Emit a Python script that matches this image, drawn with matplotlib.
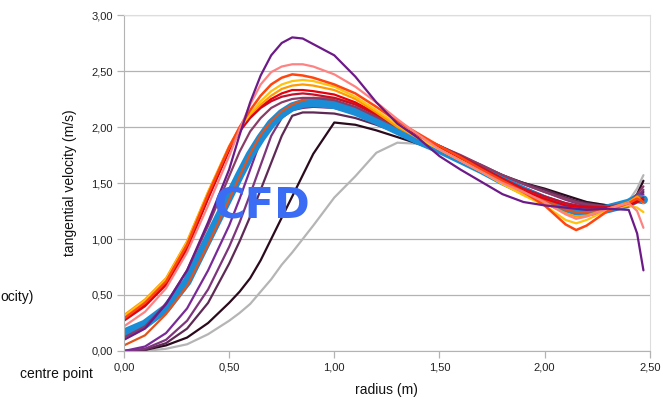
import matplotlib
matplotlib.use('Agg')
import matplotlib.pyplot as plt
from matplotlib.ticker import FuncFormatter, MultipleLocator

plt.rcParams['font.family'] = ['Liberation Sans', 'DejaVu Sans']

# radius positions (m) shared by all profiles
radius = [0.0, 0.1, 0.2, 0.3, 0.4, 0.5, 0.55, 0.6, 0.65, 0.7, 0.75, 0.8, 0.85,
          0.9, 1.0, 1.1, 1.2, 1.3, 1.4, 1.5, 1.6, 1.7, 1.8, 1.9, 2.0, 2.1,
          2.15, 2.2, 2.3, 2.4, 2.44, 2.47]

# tangential velocity profiles (m/s)
gray = [0.00, 0.00, 0.02, 0.06, 0.15, 0.27, 0.34, 0.42, 0.53, 0.64, 0.77, 0.88,
        1.00, 1.12, 1.37, 1.56, 1.77, 1.86, 1.85, 1.79, 1.71, 1.64, 1.57, 1.50,
        1.44, 1.38, 1.35, 1.33, 1.30, 1.34, 1.45, 1.57]
black = [0.00, 0.01, 0.05, 0.12, 0.25, 0.43, 0.53, 0.65, 0.81, 1.00, 1.19, 1.38,
         1.57, 1.76, 2.04, 2.02, 1.97, 1.91, 1.85, 1.78, 1.70, 1.63, 1.56, 1.50,
         1.45, 1.39, 1.36, 1.33, 1.30, 1.32, 1.40, 1.52]
plum_dark = [0.00, 0.01, 0.07, 0.20, 0.43, 0.78, 0.98, 1.20, 1.44, 1.68, 1.92,
             2.10, 2.13, 2.13, 2.12, 2.08, 2.02, 1.95, 1.88, 1.81, 1.73, 1.65,
             1.57, 1.50, 1.44, 1.37, 1.34, 1.32, 1.29, 1.31, 1.36, 1.42]
purple_mid = [0.00, 0.02, 0.10, 0.27, 0.55, 0.93, 1.15, 1.40, 1.66, 1.92, 2.08,
              2.15, 2.17, 2.18, 2.17, 2.12, 2.05, 1.97, 1.90, 1.82, 1.74, 1.66,
              1.57, 1.49, 1.42, 1.35, 1.32, 1.30, 1.28, 1.31, 1.37, 1.44]
purple = [0.00, 0.04, 0.16, 0.38, 0.72, 1.12, 1.36, 1.62, 1.88, 2.06, 2.14, 2.18,
          2.20, 2.20, 2.18, 2.12, 2.05, 1.97, 1.89, 1.82, 1.74, 1.65, 1.55, 1.46,
          1.38, 1.32, 1.30, 1.28, 1.28, 1.32, 1.38, 1.40]
cfd = [0.16, 0.24, 0.38, 0.62, 1.00, 1.38, 1.57, 1.75, 1.90, 2.03, 2.12, 2.18,
       2.21, 2.22, 2.20, 2.14, 2.06, 1.97, 1.88, 1.80, 1.71, 1.62, 1.52, 1.43,
       1.35, 1.28, 1.25, 1.24, 1.27, 1.32, 1.36, 1.35]
rust = [0.05, 0.14, 0.33, 0.58, 0.95, 1.35, 1.56, 1.76, 1.93, 2.05, 2.14, 2.20,
        2.24, 2.26, 2.26, 2.21, 2.12, 2.02, 1.92, 1.83, 1.74, 1.64, 1.54, 1.44,
        1.35, 1.26, 1.24, 1.24, 1.27, 1.32, 1.38, 1.36]
mauve = [0.12, 0.22, 0.42, 0.72, 1.12, 1.56, 1.78, 1.96, 2.08, 2.17, 2.22, 2.25,
         2.26, 2.26, 2.24, 2.18, 2.09, 2.00, 1.91, 1.83, 1.75, 1.66, 1.57, 1.49,
         1.42, 1.36, 1.33, 1.31, 1.29, 1.32, 1.40, 1.47]
crimson = [0.27, 0.40, 0.59, 0.91, 1.36, 1.79, 1.96, 2.08, 2.17, 2.23, 2.27, 2.29,
           2.30, 2.29, 2.26, 2.20, 2.11, 2.01, 1.92, 1.83, 1.74, 1.64, 1.54,
           1.45, 1.38, 1.32, 1.30, 1.29, 1.28, 1.30, 1.34, 1.37]
red = [0.28, 0.41, 0.60, 0.92, 1.37, 1.80, 1.97, 2.09, 2.18, 2.25, 2.30, 2.33,
       2.33, 2.32, 2.29, 2.22, 2.12, 2.01, 1.91, 1.82, 1.72, 1.62, 1.52, 1.43,
       1.36, 1.30, 1.29, 1.28, 1.28, 1.30, 1.33, 1.35]
orange = [0.32, 0.46, 0.65, 0.98, 1.42, 1.83, 1.99, 2.11, 2.20, 2.28, 2.34, 2.37,
          2.38, 2.37, 2.33, 2.25, 2.13, 2.00, 1.90, 1.80, 1.70, 1.60, 1.50, 1.40,
          1.32, 1.23, 1.20, 1.21, 1.27, 1.33, 1.38, 1.32]
yellow = [0.31, 0.45, 0.64, 0.97, 1.42, 1.82, 1.99, 2.12, 2.23, 2.32, 2.38, 2.41,
          2.42, 2.41, 2.36, 2.27, 2.15, 2.02, 1.90, 1.80, 1.70, 1.60, 1.49, 1.39,
          1.30, 1.17, 1.14, 1.17, 1.26, 1.30, 1.28, 1.24]
orange_red = [0.29, 0.43, 0.62, 0.95, 1.40, 1.82, 2.00, 2.15, 2.28, 2.38, 2.44,
              2.47, 2.46, 2.44, 2.38, 2.30, 2.18, 2.05, 1.94, 1.83, 1.73, 1.62,
              1.52, 1.42, 1.30, 1.13, 1.08, 1.12, 1.25, 1.32, 1.36, 1.33]
pink = [0.22, 0.35, 0.56, 0.88, 1.30, 1.74, 1.98, 2.20, 2.38, 2.49, 2.54, 2.56,
        2.56, 2.54, 2.47, 2.36, 2.22, 2.07, 1.93, 1.80, 1.70, 1.60, 1.50, 1.42,
        1.33, 1.22, 1.18, 1.20, 1.27, 1.32, 1.25, 1.10]
violet_peak = [0.10, 0.20, 0.42, 0.72, 1.15, 1.62, 1.93, 2.22, 2.46, 2.64, 2.75,
               2.80, 2.79, 2.74, 2.64, 2.45, 2.22, 2.03, 1.90, 1.74, 1.62, 1.51,
               1.40, 1.33, 1.30, 1.28, 1.27, 1.26, 1.27, 1.26, 1.05, 0.72]

# (data, colour, width) in drawing order
profiles = [
    (gray, '#b5b5b5', 1.6),
    (black, '#2a0a1c', 1.6),
    (plum_dark, '#5e2a55', 1.6),
    (purple_mid, '#7d357c', 1.6),
    (purple, '#7a2a98', 1.6),
    (cfd, '#1a8dd6', 6.5),
    (rust, '#e2541c', 1.6),
    (mauve, '#8a3c66', 1.6),
    (crimson, '#c0122c', 1.6),
    (red, '#e6000c', 1.6),
    (orange, '#ff9a00', 1.6),
    (yellow, '#ffc20e', 1.6),
    (orange_red, '#ff4610', 1.8),
    (pink, '#ff8282', 1.6),
    (violet_peak, '#6c1a88', 1.6),
]

fig = plt.figure(figsize=(6.63, 4.0), dpi=100)
ax = fig.add_axes([0.187, 0.1225, 0.793, 0.84])

for vals, col, lw in profiles:
    ax.plot(radius, vals, color=col, lw=lw, solid_capstyle='round')

ax.set_xlim(0, 2.5)
ax.set_ylim(0, 3.0)
ax.xaxis.set_major_locator(MultipleLocator(0.5))
ax.yaxis.set_major_locator(MultipleLocator(0.5))
comma = FuncFormatter(lambda v, p: f"{v:.2f}".replace('.', ','))
ax.xaxis.set_major_formatter(comma)
ax.yaxis.set_major_formatter(comma)
ax.tick_params(axis='both', labelsize=8, color='#b3b3b3', length=5,
               width=0.9, pad=3, labelcolor='#222222')

# only horizontal grid lines
ax.grid(axis='y', color='#b3b3b3', lw=0.9)
ax.set_axisbelow(True)
for side in ['left', 'bottom']:
    ax.spines[side].set_color('#b3b3b3')
for side in ['top', 'right']:
    ax.spines[side].set_color('#dddddd')

ax.set_xlabel('radius (m)', fontsize=10, labelpad=8, color='#111111')
ax.set_ylabel('tangential velocity (m/s)', fontsize=10, labelpad=10,
              color='#111111')

# hand-written style label over the thick curve
ax.text(0.656, 1.29, 'CFD', color='#3a6cf4', fontsize=31, fontweight='bold',
        ha='center', va='center', family='DejaVu Sans')

# leftovers of the surrounding page
fig.text(0.0, 1 - 297 / 400, 'ocity)', fontsize=10, va='center', ha='left',
         color='#111111')
fig.text(20 / 663, 1 - 374 / 400, 'centre point', fontsize=10, va='center',
         ha='left', color='#111111')

fig.savefig('out.png', dpi=100)
